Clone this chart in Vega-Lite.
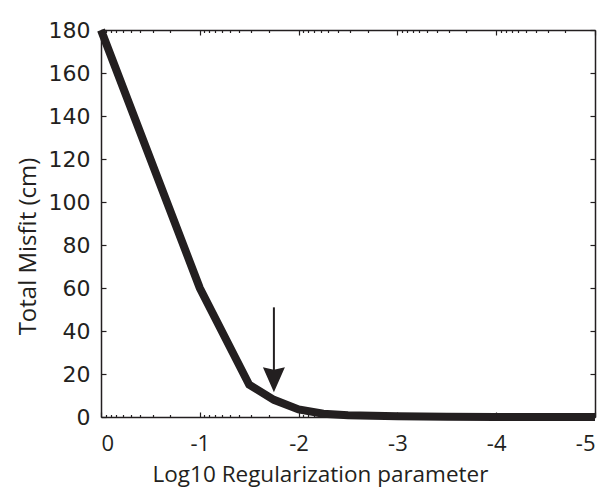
{
  "$schema": "https://vega.github.io/schema/vega-lite/v6.json",
  "width": 494,
  "height": 387,
  "autosize": {"type": "none"},
  "padding": {"left": 101, "top": 30, "right": 7, "bottom": 72},
  "background": "white",
  "config": {
    "view": {"stroke": null},
    "axis": {
      "grid": false,
      "domainColor": "#231f20",
      "domainWidth": 1.5,
      "tickColor": "#231f20",
      "tickWidth": 1.2,
      "labelColor": "#231f20",
      "titleColor": "#231f20",
      "titleFontWeight": "normal"
    }
  },
  "datasets": {
    "curve": [
      {"x": 0, "y": 180},
      {"x": -1, "y": 60},
      {"x": -1.5, "y": 15},
      {"x": -1.75, "y": 8},
      {"x": -2, "y": 3.5},
      {"x": -2.25, "y": 1.5},
      {"x": -2.5, "y": 0.8},
      {"x": -3, "y": 0.3},
      {"x": -3.5, "y": 0.1},
      {"x": -4, "y": 0},
      {"x": -5, "y": 0}
    ],
    "arrow": [{"x": -1.75, "y": 51, "y2": 20, "head": 17.3}]
  },
  "resolve": {"axis": {"x": "independent", "y": "independent"}},
  "layer": [
    {
      "data": {"name": "curve"},
      "mark": {"type": "line", "color": "#231f20", "strokeWidth": 8, "strokeCap": "butt", "clip": false},
      "encoding": {
        "x": {
          "field": "x", "type": "quantitative",
          "scale": {"domain": [-5, 0], "reverse": true, "nice": false, "zero": false},
          "axis": {
            "orient": "bottom",
            "values": [0, -1, -2, -3, -4, -5],
            "labelExpr": "datum.value + ''",
            "tickSize": -5,
            "labelPadding": 21,
            "labelFont": "Open Sans",
            "labelFontSize": 22,
            "title": "Log10 Regularization parameter",
            "titleFont": "Open Sans",
            "titleFontSize": 22.5,
            "titleAnchor": "middle",
            "titleX": 219,
            "titleY": 64,
            "titleBaseline": "alphabetic"
          }
        },
        "y": {
          "field": "y", "type": "quantitative",
          "scale": {"domain": [0, 180], "nice": false, "zero": false},
          "axis": {
            "orient": "left",
            "values": [0, 20, 40, 60, 80, 100, 120, 140, 160, 180],
            "tickSize": -5,
            "labelPadding": 16,
            "labelFont": "DejaVu Sans",
            "labelFontSize": 22,
            "title": "Total Misfit (cm)",
            "titleFont": "Open Sans",
            "titleFontSize": 24,
            "titleAnchor": "middle",
            "titleX": -66,
            "titleY": 216,
            "titleBaseline": "alphabetic"
          }
        }
      }
    },
    {
      "data": {"name": "curve"},
      "mark": {"type": "line", "strokeOpacity": 0},
      "encoding": {
        "x": {
          "field": "x", "type": "quantitative",
          "scale": {"domain": [-5, 0], "reverse": true, "nice": false, "zero": false},
          "axis": {"orient": "top", "values": [0, -1, -2, -3, -4, -5], "labels": false, "title": null, "tickSize": -5}
        },
        "y": {
          "field": "y", "type": "quantitative",
          "scale": {"domain": [0, 180], "nice": false, "zero": false},
          "axis": {"orient": "right", "values": [0, 20, 40, 60, 80, 100, 120, 140, 160, 180], "labels": false, "title": null, "tickSize": -5}
        }
      }
    },
    {
      "data": {"name": "curve"},
      "mark": {"type": "line", "strokeOpacity": 0},
      "encoding": {
        "x": {
          "field": "x", "type": "quantitative",
          "scale": {"domain": [-5, 0], "reverse": true, "nice": false, "zero": false},
          "axis": {
            "orient": "bottom", "labels": false, "title": null, "domain": false, "tickSize": -2.5,
            "values": [-0.0458, -0.0969, -0.1549, -0.2218, -0.301, -0.3979, -0.5229, -0.699,
                       -1.0458, -1.0969, -1.1549, -1.2218, -1.301, -1.3979, -1.5229, -1.699,
                       -2.0458, -2.0969, -2.1549, -2.2218, -2.301, -2.3979, -2.5229, -2.699,
                       -3.0458, -3.0969, -3.1549, -3.2218, -3.301, -3.3979, -3.5229, -3.699,
                       -4.0458, -4.0969, -4.1549, -4.2218, -4.301, -4.3979, -4.5229, -4.699]
          }
        },
        "y": {"field": "y", "type": "quantitative", "scale": {"domain": [0, 180], "nice": false, "zero": false}, "axis": null}
      }
    },
    {
      "data": {"name": "curve"},
      "mark": {"type": "line", "strokeOpacity": 0},
      "encoding": {
        "x": {
          "field": "x", "type": "quantitative",
          "scale": {"domain": [-5, 0], "reverse": true, "nice": false, "zero": false},
          "axis": {
            "orient": "top", "labels": false, "title": null, "domain": false, "tickSize": -2.5,
            "values": [-0.0458, -0.0969, -0.1549, -0.2218, -0.301, -0.3979, -0.5229, -0.699,
                       -1.0458, -1.0969, -1.1549, -1.2218, -1.301, -1.3979, -1.5229, -1.699,
                       -2.0458, -2.0969, -2.1549, -2.2218, -2.301, -2.3979, -2.5229, -2.699,
                       -3.0458, -3.0969, -3.1549, -3.2218, -3.301, -3.3979, -3.5229, -3.699,
                       -4.0458, -4.0969, -4.1549, -4.2218, -4.301, -4.3979, -4.5229, -4.699]
          }
        },
        "y": {"field": "y", "type": "quantitative", "scale": {"domain": [0, 180], "nice": false, "zero": false}, "axis": null}
      }
    },
    {
      "data": {"name": "arrow"},
      "mark": {"type": "rule", "color": "#231f20", "strokeWidth": 2},
      "encoding": {
        "x": {"field": "x", "type": "quantitative", "scale": {"domain": [-5, 0], "reverse": true, "nice": false, "zero": false}, "axis": null},
        "y": {"field": "y", "type": "quantitative", "scale": {"domain": [0, 180], "nice": false, "zero": false}, "axis": null},
        "y2": {"field": "y2"}
      }
    },
    {
      "data": {"name": "arrow"},
      "mark": {"type": "point", "shape": "M-0.88,-1 L0,-0.8 L0.88,-1 L0,1 Z", "filled": true, "color": "#231f20", "opacity": 1, "size": 625, "strokeWidth": 0},
      "encoding": {
        "x": {"field": "x", "type": "quantitative", "scale": {"domain": [-5, 0], "reverse": true, "nice": false, "zero": false}, "axis": null},
        "y": {"field": "head", "type": "quantitative", "scale": {"domain": [0, 180], "nice": false, "zero": false}, "axis": null}
      }
    }
  ]
}
